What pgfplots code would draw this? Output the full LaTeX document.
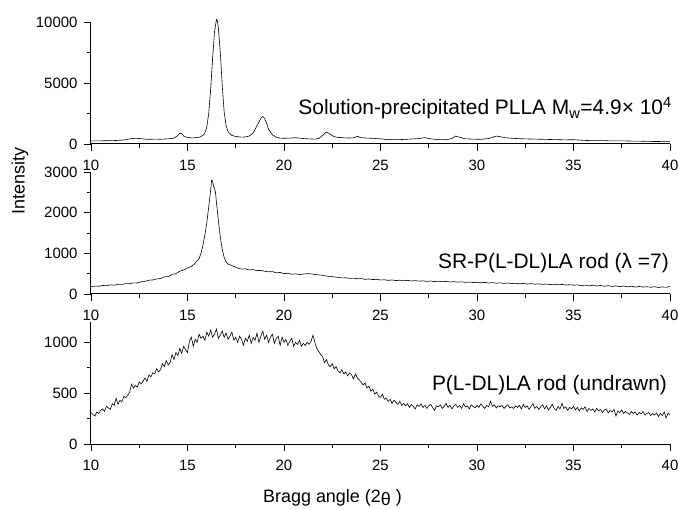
\documentclass[border=0pt]{standalone}
\usepackage{pgfplots}
\pgfplotsset{compat=1.18}
\usepackage{fontspec}
\setmainfont{Liberation Sans}
\begin{document}
\begin{tikzpicture}
\pgfplotsset{
  panel/.style={
    scale only axis, width=579bp, height=122bp,
    xmin=10, xmax=40, xtick={10,15,...,40}, minor x tick num=1,
    axis x line*=bottom, axis y line*=left,
    tick align=outside, major tick length=7bp, minor tick length=4bp,
    every tick/.style={line width=0.8bp, black},
    axis line style={line width=1bp},
    tick label style={font=\fontsize{15}{17}\selectfont},
    xticklabel style={yshift=-6bp},
    yticklabel style={xshift=-3bp},
    /pgf/number format/assume math mode=true,
    /pgf/number format/1000 sep={},
    scaled y ticks=false,
    clip=false,
  },
  curve/.style={black, line width=0.6bp, mark=none},
}
% ---------- top panel ----------
\begin{axis}[panel, at={(0,300bp)}, ymin=0, ymax=10000, ytick={0,5000,10000}, minor y tick num=1]
\addplot[curve] coordinates {
(10.0,250) (10.5,260) (11.0,270) (11.5,300) (11.8,350) (12.0,420) (12.2,470) (12.4,460) (12.6,440) (12.8,400)
(13.0,380) (13.3,400) (13.6,390) (14.0,420) (14.3,480) (14.5,700) (14.6,880) (14.7,850) (14.8,650) (15.0,520)
(15.3,500) (15.6,550) (15.8,700) (15.9,900) (16.0,1400) (16.1,2500) (16.2,4500) (16.3,7000) (16.4,9200) (16.5,10200)
(16.55,10100) (16.6,9500) (16.7,7500) (16.8,4800) (16.9,2600) (17.0,1500) (17.1,1000) (17.3,700) (17.5,620) (17.8,560)
(18.0,580) (18.2,650) (18.4,900) (18.6,1500) (18.8,2100) (18.9,2250) (19.0,2100) (19.1,1700) (19.2,1200) (19.4,750)
(19.6,550) (19.8,480) (20.0,470) (20.3,480) (20.6,520) (20.8,480) (21.0,450) (21.3,420) (21.6,400) (21.8,450)
(22.0,700) (22.2,980) (22.4,800) (22.6,600) (22.8,540) (23.0,520) (23.3,490) (23.6,500) (23.8,620) (24.0,520)
(24.3,480) (24.6,470) (25.0,420) (25.5,350) (26.0,360) (26.5,400) (27.0,450) (27.3,520) (27.6,420) (28.0,360)
(28.4,350) (28.7,450) (28.9,650) (29.1,550) (29.4,420) (29.8,400) (30.2,380) (30.6,450) (31.0,650) (31.2,600)
(31.5,500) (32.0,450) (32.5,420) (33.0,400) (33.5,380) (34.0,360) (34.5,340) (35.0,350) (35.5,300) (36.0,270)
(36.5,280) (37.0,250) (37.5,260) (38.0,240) (38.5,230) (39.0,210) (39.5,200) (40.0,190)
};
\node[anchor=base east, font=\fontsize{21}{24}\selectfont, inner sep=0pt] at (axis cs:40.1,2380)
  {Solution-precipitated PLLA M\textsubscript{w}=4.9× 10\textsuperscript{4}};
\end{axis}
% ---------- middle panel ----------
\begin{axis}[panel, at={(0,150bp)}, ymin=0, ymax=3000, ytick={0,1000,2000,3000}, minor y tick num=1]
\addplot[curve] coordinates {
(10.0,180) (10.2,195) (10.4,190) (10.6,210) (10.8,205) (11.0,225) (11.2,215) (11.4,240) (11.6,235) (11.8,255)
(12.0,250) (12.2,275) (12.4,270) (12.6,300) (12.8,310) (13.0,340) (13.2,345) (13.4,370) (13.6,380) (13.8,420)
(14.0,430) (14.2,480) (14.4,500) (14.6,560) (14.8,590) (15.0,640) (15.2,680) (15.4,760) (15.5,820) (15.6,870)
(15.7,1000) (15.8,1200) (15.9,1450) (16.0,1750) (16.1,2150) (16.2,2550) (16.25,2800) (16.3,2780) (16.35,2650) (16.4,2600)
(16.45,2500) (16.5,2250) (16.6,1800) (16.7,1400) (16.8,1100) (16.9,900) (17.0,780) (17.1,740) (17.2,720) (17.4,680)
(17.6,640) (17.8,610) (18.0,620) (18.2,590) (18.4,600) (18.6,575) (18.8,580) (19.0,560) (19.2,545) (19.4,550)
(19.6,520) (19.8,530) (20.0,500) (20.2,510) (20.4,485) (20.6,495) (20.8,480) (21.0,490) (21.2,500) (21.4,495)
(21.6,480) (21.8,470) (22.0,460) (22.2,440) (22.4,430) (22.6,420) (22.8,410) (23.0,395) (23.2,400) (23.4,385)
(23.6,390) (23.8,375) (24.0,380) (24.2,360) (24.4,370) (24.6,355) (24.8,360) (25.0,345) (25.2,350) (25.4,335)
(25.6,345) (25.8,330) (26.0,340) (26.2,325) (26.4,335) (26.6,320) (26.8,330) (27.0,315) (27.2,325) (27.4,310)
(27.6,320) (27.8,305) (28.0,315) (28.2,300) (28.4,310) (28.6,295) (28.8,305) (29.0,290) (29.2,300) (29.4,285)
(29.6,295) (29.8,280) (30.0,290) (30.2,275) (30.4,285) (30.6,270) (30.8,280) (31.0,265) (31.2,275) (31.4,260)
(31.6,270) (31.8,255) (32.0,265) (32.2,250) (32.4,260) (32.6,245) (32.8,255) (33.0,240) (33.2,250) (33.4,235)
(33.6,245) (33.8,230) (34.0,240) (34.2,225) (34.4,235) (34.6,220) (34.8,230) (35.0,215) (35.2,225) (35.4,205)
(35.6,220) (35.8,200) (36.0,215) (36.2,195) (36.4,210) (36.6,190) (36.8,205) (37.0,185) (37.2,200) (37.4,180)
(37.6,195) (37.8,175) (38.0,190) (38.2,170) (38.4,185) (38.6,170) (38.8,180) (39.0,165) (39.2,180) (39.4,160)
(39.6,175) (39.8,165) (40.0,185)
};
\node[anchor=base east, font=\fontsize{21}{24}\selectfont, inner sep=0pt] at (axis cs:39.95,635)
  {SR-P(L-DL)LA rod (λ =7)};
\end{axis}
% ---------- bottom panel ----------
\begin{axis}[panel, at={(0,0)}, ymin=0, ymax=1200, ytick={0,500,1000}, minor ytick={250,750}]
\addplot[curve] coordinates {
(10.0,310) (10.1,290) (10.2,275) (10.3,315) (10.4,300) (10.5,330) (10.6,345) (10.7,320) (10.8,370) (10.9,355)
(11.0,340) (11.1,395) (11.2,380) (11.3,450) (11.4,390) (11.5,430) (11.6,415) (11.7,470) (11.8,455) (11.9,480)
(12.0,510) (12.1,590) (12.2,550) (12.3,575) (12.4,560) (12.5,610) (12.6,590) (12.7,620) (12.8,650) (12.9,615)
(13.0,680) (13.1,660) (13.2,700) (13.3,690) (13.4,740) (13.5,710) (13.6,730) (13.7,790) (13.8,760) (13.9,820)
(14.0,780) (14.1,800) (14.2,880) (14.3,830) (14.4,900) (14.5,870) (14.6,940) (14.7,890) (14.8,960) (14.9,930)
(15.0,900) (15.1,1010) (15.2,1050) (15.3,960) (15.4,1030) (15.5,1000) (15.6,1080) (15.7,1040) (15.8,1060) (15.9,1020)
(16.0,1100) (16.1,1060) (16.2,1120) (16.3,1050) (16.4,1080) (16.5,1130) (16.6,1040) (16.7,1070) (16.8,1110) (16.9,1050)
(17.0,1090) (17.1,1030) (17.2,1060) (17.3,1100) (17.4,1020) (17.5,1050) (17.6,1000) (17.7,1060) (17.8,1030) (17.9,970)
(18.0,1040) (18.1,1010) (18.2,1070) (18.3,990) (18.4,1050) (18.5,1020) (18.6,1090) (18.7,1000) (18.8,1060) (18.9,1110)
(19.0,1030) (19.1,1070) (19.2,1000) (19.3,1050) (19.4,1080) (19.5,990) (19.6,1040) (19.7,1060) (19.8,970) (19.9,1050)
(20.0,1000) (20.1,1030) (20.2,970) (20.3,1010) (20.4,1040) (20.5,960) (20.6,1000) (20.7,980) (20.8,1020) (20.9,960)
(21.0,990) (21.1,970) (21.2,1000) (21.3,980) (21.4,1010) (21.5,1070) (21.6,1000) (21.7,940) (21.8,910) (21.9,880)
(22.0,860) (22.1,800) (22.2,830) (22.3,780) (22.4,760) (22.5,790) (22.6,740) (22.7,760) (22.8,720) (22.9,700)
(23.0,730) (23.1,690) (23.2,710) (23.3,670) (23.4,700) (23.5,680) (23.6,640) (23.7,690) (23.8,650) (23.9,630)
(24.0,610) (24.1,580) (24.2,600) (24.3,550) (24.4,570) (24.5,520) (24.6,540) (24.7,490) (24.8,510) (24.9,470)
(25.0,460) (25.1,490) (25.2,440) (25.3,450) (25.4,420) (25.5,440) (25.6,400) (25.7,430) (25.8,410) (25.9,390)
(26.0,420) (26.1,380) (26.2,400) (26.3,375) (26.4,395) (26.5,360) (26.6,390) (26.7,370) (26.8,345) (26.9,385)
(27.0,370) (27.1,395) (27.2,360) (27.3,380) (27.4,350) (27.5,375) (27.6,390) (27.7,360) (27.8,330) (27.9,375)
(28.0,365) (28.1,385) (28.2,350) (28.3,370) (28.4,400) (28.5,360) (28.6,380) (28.7,345) (28.8,375) (28.9,390)
(29.0,360) (29.1,380) (29.2,350) (29.3,395) (29.4,365) (29.5,375) (29.6,345) (29.7,385) (29.8,370) (29.9,355)
(30.0,380) (30.1,360) (30.2,395) (30.3,370) (30.4,350) (30.5,380) (30.6,365) (30.7,420) (30.8,370) (30.9,385)
(31.0,355) (31.1,375) (31.2,365) (31.3,380) (31.4,350) (31.5,370) (31.6,385) (31.7,355) (31.8,365) (31.9,350)
(32.0,375) (32.1,360) (32.2,380) (32.3,345) (32.4,390) (32.5,360) (32.6,375) (32.7,340) (32.8,370) (32.9,395)
(33.0,350) (33.1,370) (33.2,340) (33.3,365) (33.4,385) (33.5,345) (33.6,375) (33.7,335) (33.8,360) (33.9,390)
(34.0,350) (34.1,330) (34.2,370) (34.3,345) (34.4,400) (34.5,350) (34.6,365) (34.7,330) (34.8,360) (34.9,345)
(35.0,370) (35.1,335) (35.2,360) (35.3,325) (35.4,355) (35.5,340) (35.6,365) (35.7,320) (35.8,350) (35.9,330)
(36.0,345) (36.1,315) (36.2,350) (36.3,325) (36.4,340) (36.5,310) (36.6,335) (36.7,345) (36.8,305) (36.9,330)
(37.0,315) (37.1,340) (37.2,275) (37.3,325) (37.4,310) (37.5,335) (37.6,300) (37.7,320) (37.8,305) (37.9,290)
(38.0,320) (38.1,300) (38.2,315) (38.3,285) (38.4,310) (38.5,295) (38.6,320) (38.7,285) (38.8,300) (38.9,310)
(39.0,280) (39.1,300) (39.2,285) (39.3,305) (39.4,270) (39.5,300) (39.6,280) (39.7,315) (39.8,255) (39.9,305)
(40.0,285)
};
\node[anchor=base east, font=\fontsize{21}{24}\selectfont, inner sep=0pt] at (axis cs:39.85,531)
  {P(L-DL)LA rod (undrawn)};
\end{axis}
\node[rotate=90, font=\fontsize{18}{21}\selectfont] at (-71bp,263bp) {Intensity};
\node[anchor=base west, font=\fontsize{18}{21}\selectfont, inner sep=0pt] at (172bp,-58bp) {Bragg angle (2\raisebox{-0.35ex}{θ} )};
\pgfresetboundingbox
\path[use as bounding box] (-91bp,-66bp) rectangle (587bp,444bp);
\end{tikzpicture}
\end{document}
